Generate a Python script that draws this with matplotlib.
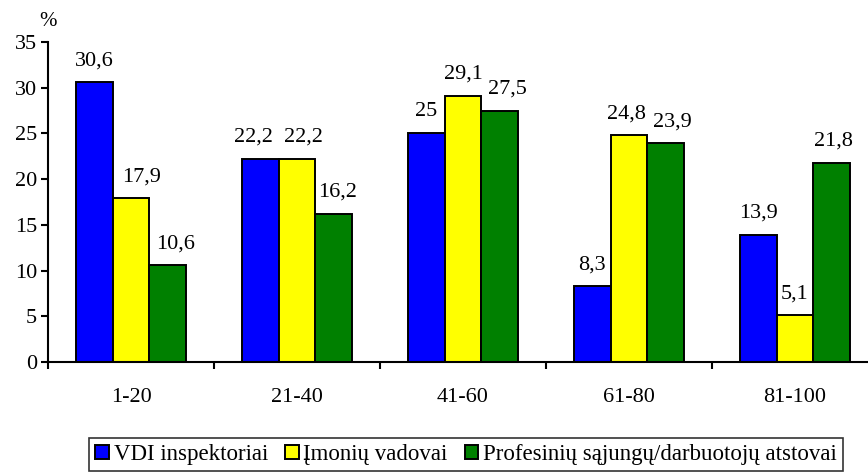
import matplotlib
matplotlib.use("Agg")
import matplotlib.pyplot as plt
import numpy as np

plt.rcParams["font.family"] = ["Liberation Serif", "DejaVu Serif"]

categories = ["1-20", "21-40", "41-60", "61-80", "81-100"]
series_names = ["VDI inspektoriai", "Įmonių vadovai", "Profesinių sąjungų/darbuotojų atstovai"]
vdi = [30.6, 22.2, 25, 8.3, 13.9]
vadovai = [17.9, 22.2, 29.1, 24.8, 5.1]
atstovai = [10.6, 16.2, 27.5, 23.9, 21.8]
colors = ["#0000ff", "#ffff00", "#008000"]

# horizontal nudges (pixels) for value labels that would crowd a neighbour
label_nudge = {(0, 1): -7, (1, 1): 6, (1, 0): 11, (2, 0): 8, (2, 1): 4,
               (2, 2): 8, (1, 3): -3, (2, 3): 7, (2, 4): 2}

W, H = 868, 473
fig = plt.figure(figsize=(W / 100, H / 100), dpi=100)
# axes span reaches slightly past the right edge of the canvas
ax = fig.add_axes([48 / W, 1 - 362 / H, 830 / W, 320 / H])

x = np.arange(len(categories))
bw = 0.222
for i, (vals, col, name) in enumerate(zip([vdi, vadovai, atstovai], colors, series_names)):
    pos = x + (i - 1) * bw
    ax.bar(pos, vals, width=bw, color=col, edgecolor="black", linewidth=1.4, label=name)
    for j, (p, v) in enumerate(zip(pos, vals)):
        ax.annotate(f"{v:g}".replace(".", ","), (p, v), xytext=(label_nudge.get((i, j), 0), 17),
                    textcoords="offset pixels", ha="center", va="baseline", fontsize=16)

ax.set_xlim(-0.5, len(categories) - 0.5)
ax.set_ylim(0, 35)
ax.set_yticks(range(0, 36, 5))
ax.tick_params(axis="y", labelsize=16, length=5, width=1.5, direction="out", pad=3)
ax.set_xticks(np.arange(len(categories) + 1) - 0.5)
ax.set_xticklabels([])
ax.tick_params(axis="x", length=5, width=1.5, direction="out")
ax.set_xticks(x, minor=True)
ax.set_xticklabels(categories, minor=True, fontsize=16)
ax.tick_params(axis="x", which="minor", length=0, pad=19)

for s in ["top", "right"]:
    ax.spines[s].set_visible(False)
for s in ["left", "bottom"]:
    ax.spines[s].set_linewidth(1.5)

ax.text(-0.555, 36.2, "%", ha="left", va="bottom", fontsize=15)

leg = fig.legend(loc="lower center", bbox_to_anchor=(466 / W, 0), ncol=3, fontsize=16.5,
                 frameon=True, fancybox=False, edgecolor="black", handlelength=0.6,
                 handleheight=0.6, handletextpad=0.2, columnspacing=0.75, borderpad=0.25,
                 borderaxespad=0.1)
leg.get_frame().set_linewidth(1.2)
for h in leg.legend_handles:
    h.set_linewidth(1.4)

fig.savefig("out.png", dpi=100)
